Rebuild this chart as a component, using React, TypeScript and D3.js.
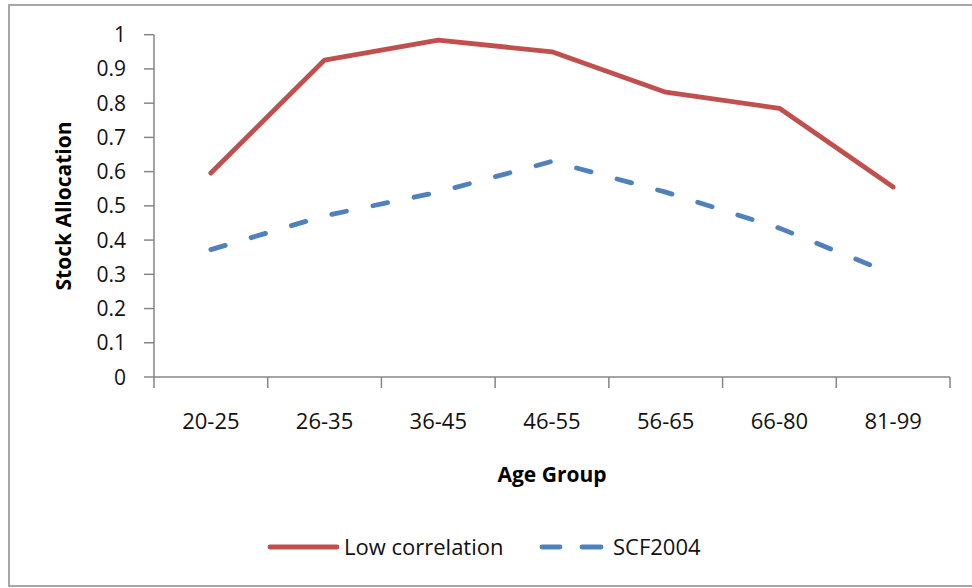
import React from "react";
import * as d3 from "d3";

const categories = ["20-25", "26-35", "36-45", "46-55", "56-65", "66-80", "81-99"];
const lowCorrelation = [0.596, 0.926, 0.984, 0.95, 0.832, 0.785, 0.555];
const scf2004 = [0.372, 0.471, 0.54, 0.63, 0.54, 0.435, 0.3];
const yTicks = [0, 0.1, 0.2, 0.3, 0.4, 0.5, 0.6, 0.7, 0.8, 0.9, 1];
const seriesNames = ["Low correlation", "SCF2004"];

const W = 972;
const H = 588;
const plot = { left: 154, right: 950, top: 34.7, bottom: 377 };
const RED = "#C0504D";
const BLUE = "#4F81BD";
const AXIS = "#868686";
const FONT = "'Open Sans', 'Noto Sans', sans-serif";

export default function App() {
  const x = d3.scaleBand<string>().domain(categories).range([plot.left, plot.right]).padding(0);
  const y = d3.scaleLinear().domain([0, 1]).range([plot.bottom, plot.top]);
  const cx = (c: string) => (x(c) as number) + x.bandwidth() / 2;
  const line = d3
    .line<number>()
    .x((_, i) => cx(categories[i]))
    .y((d) => y(d));

  const tickEdges = categories.map((c) => x(c) as number).concat([plot.right]);

  return (
    <svg
      width={W}
      height={H}
      style={{ position: "fixed", left: 0, top: 0, background: "#fff" }}
      fontFamily={FONT}
    >
      <rect x={0} y={0} width={W} height={H} fill="#fff" />
      <rect x={9} y={5} width={W + 20} height={581} fill="#fff" stroke="#a6a6a6" strokeWidth={2} />

      {/* y axis */}
      <line x1={plot.left} x2={plot.left} y1={plot.top} y2={plot.bottom} stroke={AXIS} strokeWidth={1.5} />
      {yTicks.map((t) => (
        <g key={t}>
          <line x1={plot.left - 10} x2={plot.left} y1={y(t)} y2={y(t)} stroke={AXIS} strokeWidth={1.5} />
          <text x={126} y={y(t)} dy="0.36em" textAnchor="end" fontSize={21} fill="#111">
            {String(t)}
          </text>
        </g>
      ))}

      {/* x axis */}
      <line x1={plot.left} x2={plot.right} y1={plot.bottom} y2={plot.bottom} stroke={AXIS} strokeWidth={1.5} />
      {tickEdges.map((e, i) => (
        <line key={i} x1={e} x2={e} y1={plot.bottom} y2={plot.bottom + 11} stroke={AXIS} strokeWidth={1.5} />
      ))}
      {categories.map((c) => (
        <text key={c} x={cx(c)} y={429} textAnchor="middle" fontSize={22} fill="#111">
          {c}
        </text>
      ))}

      {/* axis titles */}
      <text x={(plot.left + plot.right) / 2} y={482} textAnchor="middle" fontSize={21} fontWeight="bold" fill="#000">
        Age Group
      </text>
      <text
        transform={`translate(71, 206) rotate(-90)`}
        textAnchor="middle"
        fontSize={21}
        fontWeight="bold"
        fill="#000"
      >
        Stock Allocation
      </text>

      {/* series */}
      <path d={line(lowCorrelation) || ""} fill="none" stroke={RED} strokeWidth={4.8} strokeLinecap="round" strokeLinejoin="round" />
      <path
        d={line(scf2004) || ""}
        fill="none"
        stroke={BLUE}
        strokeWidth={4.8}
        strokeLinecap="round"
        strokeLinejoin="round"
        strokeDasharray="15 27"
      />

      {/* legend */}
      <line x1={270} x2={337} y1={547} y2={547} stroke={RED} strokeWidth={4.8} strokeLinecap="round" />
      <text x={344} y={547} dy="0.36em" fontSize={22} fill="#111">
        {seriesNames[0]}
      </text>
      <line x1={542} x2={560} y1={547} y2={547} stroke={BLUE} strokeWidth={4.8} strokeLinecap="round" />
      <line x1={582} x2={601} y1={547} y2={547} stroke={BLUE} strokeWidth={4.8} strokeLinecap="round" />
      <text x={613} y={547} dy="0.36em" fontSize={22} fill="#111">
        {seriesNames[1]}
      </text>
    </svg>
  );
}
